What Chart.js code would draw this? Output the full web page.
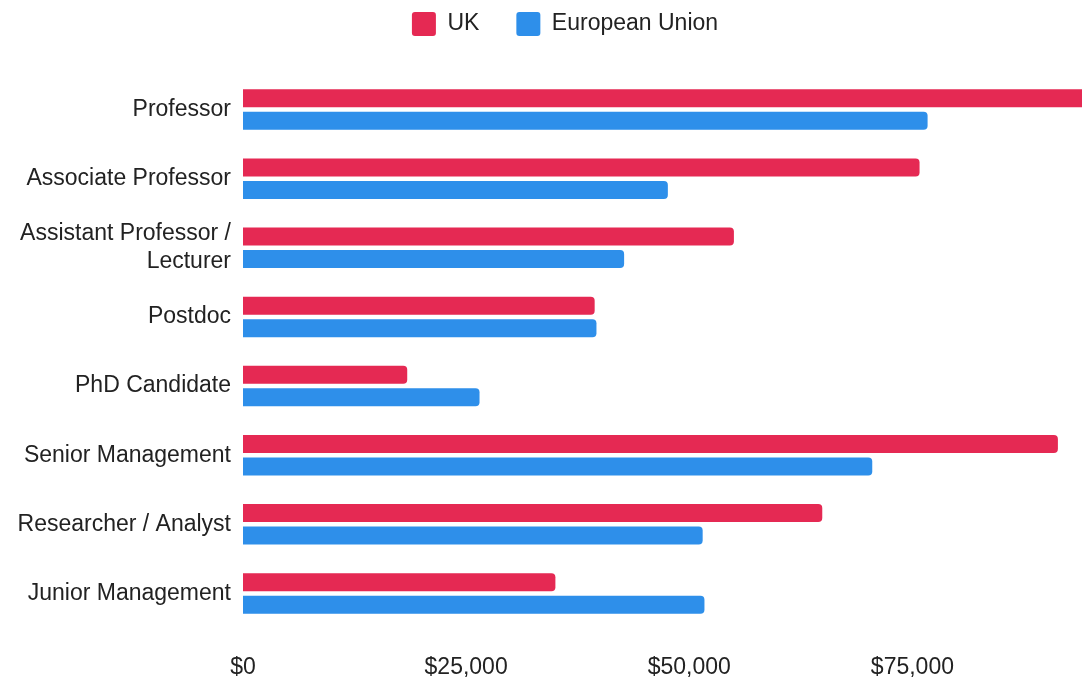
<!DOCTYPE html>
<html lang="en">
<head>
    <meta charset="UTF-8">
    <title>Salaries: UK vs European Union</title>
    <style>
        body {
            margin: 0;
            background-color: #ffffff;
        }

        .chart-container {
            width: 1082px;
            height: 680px;
        }
    </style>
</head>
<body>

<div class="chart-container">
    <canvas id="salaryChart"></canvas>
</div>

<script src="https://cdn.jsdelivr.net/npm/chart.js"></script>
<script>
    // Job roles (multi-line label as an array)
    const roles = [
        'Professor',
        'Associate Professor',
        ['Assistant Professor /', 'Lecturer'],
        'Postdoc',
        'PhD Candidate',
        'Senior Management',
        'Researcher / Analyst',
        'Junior Management'
    ];

    // Average salary in USD
    const ukSalaries = [98000, 75800, 55000, 39400, 18400, 91300, 64900, 35000];
    const euSalaries = [76700, 47600, 42700, 39600, 26500, 70500, 51500, 51700];

    // x axis
    const xTicks = [0, 25000, 50000, 75000];
    const axisMax = 94000;

    Chart.defaults.font.family = 'Arial, "Liberation Sans", sans-serif';
    Chart.defaults.font.size = 23;
    Chart.defaults.color = '#222';

    // Taller legend block, legend nudged a bit to the right
    const legendTweaks = {
        id: 'legendTweaks',
        beforeInit(chart) {
            const legend = chart.legend;
            const fit = legend.fit;
            const draw = legend.draw;
            legend.fit = function () {
                fit.call(this);
                this.height = 100;
            };
            legend.draw = function () {
                const ctx = this.ctx;
                ctx.save();
                ctx.translate(24, 0);
                draw.call(this);
                ctx.restore();
            };
        }
    };

    const config = {
        type: 'bar',
        data: {
            labels: roles,
            datasets: [{
                label: 'UK',
                data: ukSalaries,
                backgroundColor: '#e52953',
                borderRadius: 4,
                barPercentage: 0.8,
                categoryPercentage: 0.65
            }, {
                label: 'European Union',
                data: euSalaries,
                backgroundColor: '#2e8fea',
                borderRadius: 4,
                barPercentage: 0.8,
                categoryPercentage: 0.65
            }]
        },
        options: {
            indexAxis: 'y',
            responsive: true,
            maintainAspectRatio: false,
            animation: false,
            layout: {
                padding: { left: 0, right: 0, top: -25, bottom: 0 }
            },
            plugins: {
                legend: {
                    position: 'top',
                    labels: {
                        boxWidth: 24,
                        boxHeight: 24,
                        useBorderRadius: true,
                        borderRadius: 3,
                        padding: 37
                    }
                },
                tooltip: { enabled: false }
            },
            scales: {
                x: {
                    min: 0,
                    max: axisMax,
                    grid: { display: false, drawTicks: false },
                    border: { display: false },
                    afterBuildTicks: function (axis) {
                        axis.ticks = xTicks.map(v => ({ value: v }));
                    },
                    afterFit: function (axis) {
                        axis.height = 52;
                    },
                    ticks: {
                        padding: 26,
                        callback: function (value) {
                            return '$' + value.toLocaleString('en-US');
                        }
                    }
                },
                y: {
                    grid: { display: false, drawTicks: false },
                    border: { display: false },
                    afterFit: function (axis) {
                        axis.width = 243;
                    },
                    ticks: {
                        padding: 12,
                        font: { lineHeight: 1.2 }
                    }
                }
            }
        },
        plugins: [legendTweaks]
    };

    const salaryChart = new Chart(
        document.getElementById('salaryChart'),
        config
    );
</script>

</body>
</html>
